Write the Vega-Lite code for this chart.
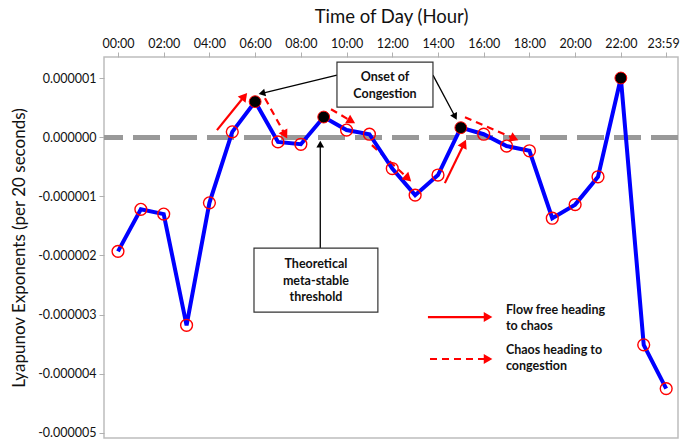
{
  "$schema": "https://vega.github.io/schema/vega-lite/v6.json",
  "autosize": "none",
  "width": 574,
  "height": 381,
  "padding": {"left": 104, "top": 57, "right": 3, "bottom": 2},
  "background": "white",
  "config": {
    "font": "Lato",
    "view": {"stroke": "#bdbdbd", "strokeWidth": 1.5},
    "axis": {"grid": false, "domain": false, "tickColor": "#b0b0b0", "tickSize": 5, "labelColor": "#111", "titleColor": "#111", "labelFont": "Lato", "titleFont": "Lato"}
  },
  "datasets": {
    "series": [
      {"hour": 0, "value": -0.00000193, "onset": false},
      {"hour": 1, "value": -0.00000122, "onset": false},
      {"hour": 2, "value": -0.00000130, "onset": false},
      {"hour": 3, "value": -0.00000318, "onset": false},
      {"hour": 4, "value": -0.00000111, "onset": false},
      {"hour": 5, "value": 0.00000009, "onset": false},
      {"hour": 6, "value": 0.00000060, "onset": true},
      {"hour": 7, "value": -0.00000008, "onset": false},
      {"hour": 8, "value": -0.00000012, "onset": false},
      {"hour": 9, "value": 0.00000034, "onset": true},
      {"hour": 10, "value": 0.00000012, "onset": false},
      {"hour": 11, "value": 0.00000005, "onset": false},
      {"hour": 12, "value": -0.00000053, "onset": false},
      {"hour": 13, "value": -0.00000098, "onset": false},
      {"hour": 14, "value": -0.00000064, "onset": false},
      {"hour": 15, "value": 0.00000016, "onset": true},
      {"hour": 16, "value": 0.00000005, "onset": false},
      {"hour": 17, "value": -0.00000015, "onset": false},
      {"hour": 18, "value": -0.00000023, "onset": false},
      {"hour": 19, "value": -0.00000137, "onset": false},
      {"hour": 20, "value": -0.00000114, "onset": false},
      {"hour": 21, "value": -0.00000067, "onset": false},
      {"hour": 22, "value": 0.00000100, "onset": true},
      {"hour": 23, "value": -0.00000351, "onset": false},
      {"hour": 23.983, "value": -0.00000425, "onset": false}
    ],
    "arrows": [
      {"kind": "pointer", "x": 9.58, "y": 0.000001048, "x2": 6.295, "y2": 0.000000742, "angle": 166},
      {"kind": "pointer", "x": 13.78, "y": 0.000001048, "x2": 14.75, "y2": 0.000000346, "angle": 62},
      {"kind": "pointer", "x": 8.85, "y": -0.000001875, "x2": 8.85, "y2": -0.000000118, "angle": -90},
      {"kind": "flow", "x": 4.33, "y": 0.000000118, "x2": 5.53, "y2": 0.000000691, "angle": -51},
      {"kind": "flow", "x": 14.30, "y": -0.000000777, "x2": 15.14, "y2": -0.000000111, "angle": -64},
      {"kind": "flow", "x": 13.56, "y": -0.000003041, "x2": 16.19, "y2": -0.000003041, "angle": 0},
      {"kind": "chaos", "x": 6.43, "y": 0.000000659, "x2": 7.31, "y2": 0.000000042, "angle": 61},
      {"kind": "chaos", "x": 9.32, "y": 0.000000473, "x2": 10.21, "y2": 0.000000270, "angle": 30},
      {"kind": "chaos", "x": 11.11, "y": -0.000000135, "x2": 12.69, "y2": -0.000000698, "angle": 43},
      {"kind": "chaos", "x": 15.18, "y": 0.000000338, "x2": 17.34, "y2": -0.000000024, "angle": 23.5},
      {"kind": "chaos", "x": 13.65, "y": -0.000003750, "x2": 16.19, "y2": -0.000003750, "angle": 0}
    ],
    "boxes": [
      {"x": 9.58, "y": 0.000001267, "x2": 13.78, "y2": 0.000000507},
      {"x": 5.95, "y": -0.000001875, "x2": 11.37, "y2": -0.000002956}
    ],
    "labels": [
      {"x": 11.68, "y": 0.000001014, "text": "Onset of", "align": "center"},
      {"x": 11.68, "y": 0.000000726, "text": "Congestion", "align": "center"},
      {"x": 8.66, "y": -0.000002145, "text": "Theoretical", "align": "center"},
      {"x": 8.66, "y": -0.000002432, "text": "meta-stable", "align": "center"},
      {"x": 8.66, "y": -0.000002703, "text": "threshold", "align": "center"},
      {"x": 16.97, "y": -0.000002922, "text": "Flow free heading", "align": "left"},
      {"x": 16.97, "y": -0.000003193, "text": "to chaos", "align": "left"},
      {"x": 16.97, "y": -0.000003598, "text": "Chaos heading to", "align": "left"},
      {"x": 16.97, "y": -0.000003868, "text": "congestion", "align": "left"}
    ]
  },
  "encoding": {
    "x": {
      "field": "hour", "type": "quantitative",
      "scale": {"domain": [-0.612, 24.5], "nice": false, "zero": false},
      "axis": {
        "orient": "top", "title": "Time of Day (Hour)", "titleFontSize": 18.5, "titleFontWeight": "normal", "titlePadding": 11,
        "values": [0, 2, 4, 6, 8, 10, 12, 14, 16, 18, 20, 22, 23.983],
        "labelExpr": "datum.value > 23.5 ? '23:59' : (datum.value < 10 ? '0' : '') + datum.value + ':00'",
        "labelOffset": {"condition": {"test": "datum.value > 23.5", "value": -3}, "value": 0},
        "labelFontSize": 12.5, "labelPadding": 2, "labelOverlap": false, "labelBound": false
      }
    },
    "y": {
      "field": "value", "type": "quantitative",
      "scale": {"domain": [-0.000005085, 0.000001355], "nice": false, "zero": false},
      "axis": {
        "title": "Lyapunov Exponents (per 20 seconds)", "titleFontSize": 17, "titleFontWeight": "normal", "titlePadding": 9,
        "values": [-0.000005, -0.000004, -0.000003, -0.000002, -0.000001, 0, 0.000001],
        "labelExpr": "replace(format(datum.value, '.6f'), '\u2212', '-')",
        "labelFontSize": 12.5, "labelPadding": 3
      }
    }
  },
  "layer": [
    {
      "data": {"name": "series"},
      "mark": {"type": "rule", "color": "#999999", "strokeWidth": 4, "strokeDash": [27, 10]},
      "encoding": {"x": null, "y": {"datum": 0, "type": "quantitative"}}
    },
    {
      "data": {"name": "arrows"},
      "transform": [{"filter": "datum.kind === 'pointer'"}],
      "mark": {"type": "rule", "color": "black", "strokeWidth": 1.3},
      "encoding": {"x": {"field": "x", "type": "quantitative"}, "y": {"field": "y", "type": "quantitative"}, "x2": {"field": "x2"}, "y2": {"field": "y2"}}
    },
    {
      "data": {"name": "arrows"},
      "transform": [{"filter": "datum.kind === 'flow'"}],
      "mark": {"type": "rule", "color": "#ff0000", "strokeWidth": 2.2},
      "encoding": {"x": {"field": "x", "type": "quantitative"}, "y": {"field": "y", "type": "quantitative"}, "x2": {"field": "x2"}, "y2": {"field": "y2"}}
    },
    {
      "data": {"name": "arrows"},
      "transform": [{"filter": "datum.kind === 'chaos'"}],
      "mark": {"type": "rule", "color": "#ff0000", "strokeWidth": 2.2, "strokeDash": [7, 5]},
      "encoding": {"x": {"field": "x", "type": "quantitative"}, "y": {"field": "y", "type": "quantitative"}, "x2": {"field": "x2"}, "y2": {"field": "y2"}}
    },
    {
      "data": {"name": "series"},
      "mark": {"type": "line", "color": "#0000ff", "strokeWidth": 4, "strokeJoin": "miter"},
      "encoding": {}
    },
    {
      "data": {"name": "series"},
      "transform": [{"filter": "!datum.onset"}],
      "mark": {"type": "point", "shape": "circle", "size": 140, "stroke": "#ff0000", "strokeWidth": 1.4, "filled": false, "opacity": 1},
      "encoding": {}
    },
    {
      "data": {"name": "series"},
      "transform": [{"filter": "datum.onset"}],
      "mark": {"type": "point", "shape": "circle", "size": 140, "fill": "black", "stroke": "#ff0000", "strokeWidth": 1, "filled": true, "opacity": 1},
      "encoding": {}
    },
    {
      "data": {"name": "arrows"},
      "transform": [{"filter": "datum.kind === 'pointer'"}],
      "mark": {"type": "point", "shape": "triangle-right", "size": 60, "filled": true, "color": "black", "opacity": 1},
      "encoding": {"x": {"field": "x2", "type": "quantitative"}, "y": {"field": "y2", "type": "quantitative"}, "angle": {"field": "angle", "type": "quantitative", "scale": null}}
    },
    {
      "data": {"name": "arrows"},
      "transform": [{"filter": "datum.kind !== 'pointer'"}],
      "mark": {"type": "point", "shape": "triangle-right", "size": 100, "filled": true, "color": "#ff0000", "opacity": 1},
      "encoding": {"x": {"field": "x2", "type": "quantitative"}, "y": {"field": "y2", "type": "quantitative"}, "angle": {"field": "angle", "type": "quantitative", "scale": null}}
    },
    {
      "data": {"name": "boxes"},
      "mark": {"type": "rect", "fill": "white", "stroke": "#333333", "strokeWidth": 1.2},
      "encoding": {"x": {"field": "x", "type": "quantitative"}, "y": {"field": "y", "type": "quantitative"}, "x2": {"field": "x2"}, "y2": {"field": "y2"}}
    },
    {
      "data": {"name": "labels"},
      "transform": [{"filter": "datum.align === 'center'"}],
      "mark": {"type": "text", "fontWeight": "bold", "fontSize": 12.5, "baseline": "middle", "align": "center", "color": "#111"},
      "encoding": {
        "x": {"field": "x", "type": "quantitative"},
        "y": {"field": "y", "type": "quantitative"},
        "text": {"field": "text"}
      }
    },
    {
      "data": {"name": "labels"},
      "transform": [{"filter": "datum.align === 'left'"}],
      "mark": {"type": "text", "fontWeight": "bold", "fontSize": 12.5, "baseline": "middle", "align": "left", "color": "#111"},
      "encoding": {
        "x": {"field": "x", "type": "quantitative"},
        "y": {"field": "y", "type": "quantitative"},
        "text": {"field": "text"}
      }
    }
  ]
}
